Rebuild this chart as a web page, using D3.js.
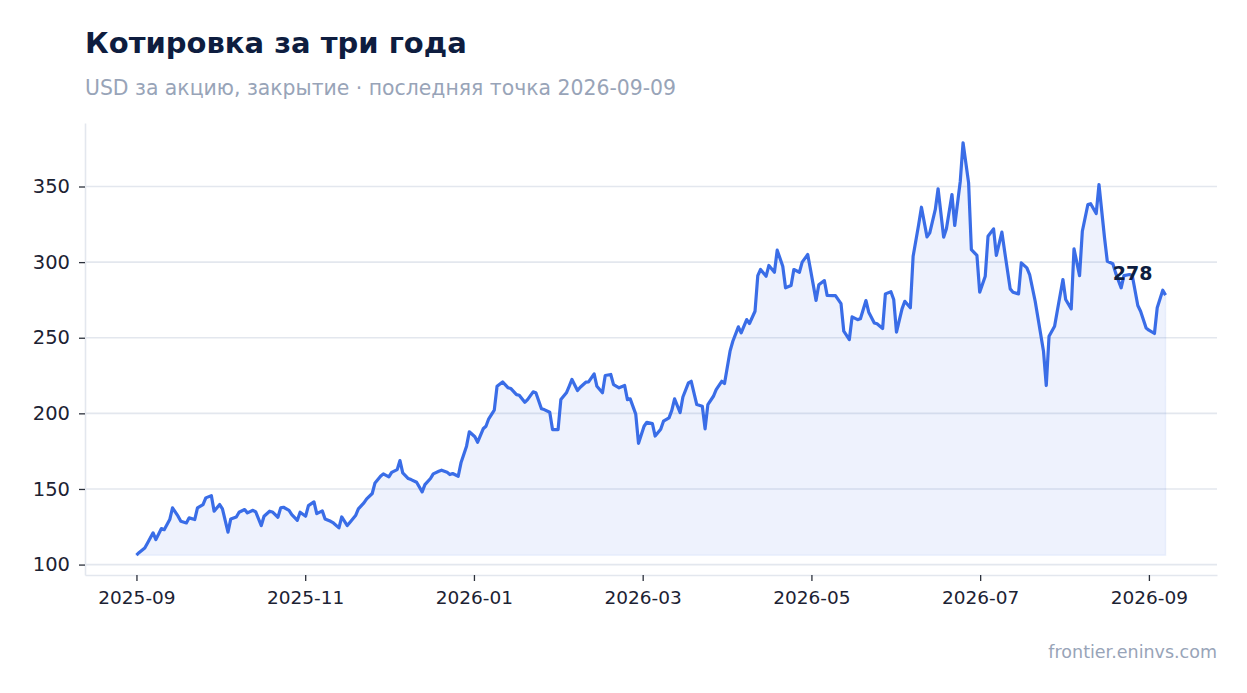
<!DOCTYPE html>
<html>
<head>
<meta charset="utf-8">
<script src="https://cdn.jsdelivr.net/npm/d3@7"></script>
<style>
  body { margin: 0; background: #fff; }
  svg { display: block; font-family: "DejaVu Sans", sans-serif; }
</style>
</head>
<body>
<div id="chart-area"></div>
<script>
const WIDTH = 1247;
const HEIGHT = 693;
const MARGIN = { LEFT: 85, RIGHT: 30, TOP: 123, BOTTOM: 118 };

const TITLE = "Котировка за три года";
const SUBTITLE = "USD за акцию, закрытие · последняя точка 2026-09-09";
const SOURCE = "frontier.eninvs.com";
const LAST_LABEL = "278";

// days counted from 2025-09-01
const START = "2025-09-01";
const dayOffsets = [
  0, 1, 3, 4, 6, 7, 9, 10, 12, 13, 15, 16, 18, 19, 21, 22, 24, 25, 27, 28,
  30, 31, 33, 34, 36, 37, 39, 40, 42, 43, 45, 46, 48, 49, 51, 52, 53, 55, 56, 58,
  59, 61, 62, 64, 65, 67, 68, 70, 71, 73, 74, 76, 77, 79, 80, 82, 83, 85, 86, 88,
  89, 91, 92, 94, 95, 96, 98, 99, 101, 103, 104, 106, 107, 109, 110, 112, 113, 114, 116, 117,
  119, 120, 122, 123, 125, 126, 127, 129, 130, 132, 134, 135, 137, 138, 140, 141, 143, 144, 146, 147,
  149, 150, 152, 153, 155, 156, 157, 159, 160, 162, 163, 165, 166, 168, 169, 171, 172, 174, 176, 177,
  178, 180, 181, 183, 184, 186, 187, 189, 190, 192, 193, 194, 196, 197, 199, 200, 202, 204, 205, 206,
  208, 209, 211, 212, 214, 215, 217, 218, 220, 221, 223, 224, 225, 227, 228, 230, 231, 233, 234, 236,
  237, 239, 240, 242, 243, 245, 246, 248, 249, 251, 252, 254, 255, 257, 258, 260, 261, 263, 264, 266,
  267, 269, 270, 272, 273, 274, 276, 277, 279, 280, 282, 283, 285, 286, 288, 289, 291, 292, 294, 295,
  297, 298, 300, 301, 303, 304, 306, 307, 309, 310, 312, 313, 315, 316, 318, 319, 321, 322, 324, 325,
  327, 328, 329, 331, 332, 334, 335, 337, 338, 340, 341, 343, 344, 346, 347, 349, 350, 352, 353, 355,
  356, 358, 359, 361, 362, 364, 365, 367, 368, 370, 371
];
const closePrices = [
  106.2, 108.0, 111.0, 114.3, 121.0, 116.5, 123.8, 123.1, 129.8, 137.5, 132.0, 128.6, 127.5, 130.9, 129.8, 137.5, 139.7, 144.1, 145.6, 135.3,
  139.7, 136.8, 121.4, 130.2, 131.5, 134.6, 136.4, 134.2, 135.9, 134.8, 125.8, 132.0, 135.3, 134.8, 131.3, 137.5, 137.9, 135.9, 133.1, 129.3,
  134.6, 132.0, 139.0, 141.5, 133.7, 135.5, 130.2, 128.6, 127.5, 124.3, 131.5, 125.8, 128.0, 132.4, 136.8, 140.8, 143.5, 147.0, 154.0, 158.4,
  160.0, 158.0, 161.0, 162.8, 168.8, 160.6, 156.9, 156.2, 154.4, 148.1, 152.9, 156.9, 160.0, 161.7, 162.4, 161.0, 159.5, 160.2, 158.4, 167.3,
  178.3, 187.8, 184.5, 180.9, 189.8, 191.5, 196.4, 202.1, 217.9, 220.8, 216.9, 216.4, 212.4, 212.0, 207.3, 209.1, 214.2, 213.6, 203.0, 202.5,
  200.7, 189.3, 189.3, 209.1, 213.6, 217.9, 222.4, 215.1, 217.3, 220.6, 220.8, 226.1, 217.9, 213.6, 225.0, 225.7, 219.0, 216.9, 218.4, 209.1,
  209.6, 199.5, 180.2, 191.5, 194.1, 193.3, 185.0, 189.5, 194.8, 197.0, 202.0, 209.6, 200.5, 210.8, 220.2, 221.2, 205.8, 204.7, 189.7, 205.8,
  211.3, 215.7, 221.2, 219.7, 241.1, 247.7, 257.2, 253.2, 262.0, 259.4, 267.5, 291.1, 295.1, 290.7, 297.8, 293.3, 307.9, 297.3, 283.0, 284.5,
  295.1, 293.3, 300.0, 305.0, 295.1, 274.7, 285.0, 287.8, 278.0, 277.9, 277.9, 272.6, 254.3, 248.8, 263.8, 262.0, 262.5, 274.6, 266.9, 259.8,
  259.2, 256.1, 279.0, 280.4, 275.3, 253.7, 269.1, 274.1, 269.8, 303.9, 324.9, 336.3, 316.7, 319.4, 334.8, 348.5, 316.5, 322.0, 344.7, 324.2,
  353.5, 378.9, 352.4, 308.3, 304.4, 280.1, 290.7, 317.1, 322.0, 304.4, 319.8, 307.0, 282.3, 280.1, 279.0, 299.5, 296.2, 291.8, 274.1, 263.2,
  241.1, 218.4, 251.0, 257.6, 268.0, 288.5, 275.3, 269.1, 308.8, 291.1, 320.4, 338.1, 338.6, 332.1, 351.3, 316.1, 300.6, 298.9, 292.9, 283.0,
  291.1, 291.8, 291.1, 271.3, 267.5, 256.5, 255.0, 252.8, 269.8, 281.4, 278.2
];
const yTickValues = [100, 150, 200, 250, 300, 350];
const xTickCount = 7;

const startDate = d3.timeParse("%Y-%m-%d")(START);
const data = dayOffsets.map((d, i) => ({
  date: d3.timeDay.offset(startDate, d),
  close: closePrices[i]
}));

const svg = d3.select("#chart-area").append("svg")
  .attr("width", WIDTH)
  .attr("height", HEIGHT);

const plotLeft = MARGIN.LEFT, plotRight = WIDTH - MARGIN.RIGHT;
const plotTop = MARGIN.TOP, plotBottom = HEIGHT - MARGIN.BOTTOM;

// 5% padding on both axes
const tExt = d3.extent(data, d => d.date);
const tPad = (tExt[1] - tExt[0]) * 0.05;
const x = d3.scaleTime()
  .domain([new Date(+tExt[0] - tPad), new Date(+tExt[1] + tPad)])
  .range([plotLeft, plotRight]);

const yExt = d3.extent(data, d => d.close);
const yPad = (yExt[1] - yExt[0]) * 0.048;
const y = d3.scaleLinear()
  .domain([yExt[0] - yPad, yExt[1] + yPad])
  .range([plotBottom, plotTop]);

// titles
svg.append("text")
  .attr("x", plotLeft).attr("y", 53)
  .attr("font-size", 29).attr("font-weight", "bold")
  .attr("fill", "#0e1d3f")
  .text(TITLE);

svg.append("text")
  .attr("x", plotLeft).attr("y", 95)
  .attr("font-size", 20.4)
  .attr("fill", "#98a4b8")
  .text(SUBTITLE);

svg.append("text")
  .attr("x", plotRight).attr("y", 658)
  .attr("text-anchor", "end")
  .attr("font-size", 17.5)
  .attr("fill", "#98a4b8")
  .text(SOURCE);

// grid
svg.append("g")
  .selectAll("line")
  .data(yTickValues)
  .join("line")
  .attr("x1", plotLeft).attr("x2", plotRight)
  .attr("y1", d => y(d)).attr("y2", d => y(d))
  .attr("stroke", "#e3e7ee")
  .attr("stroke-width", 1.6);

// area + line
const area = d3.area()
  .x(d => x(d.date))
  .y0(y(yExt[0]))
  .y1(d => y(d.close));

svg.append("path")
  .datum(data)
  .attr("d", area)
  .attr("fill", "#3b6ee8")
  .attr("fill-opacity", 0.085)
  .attr("stroke", "#3b6ee8")
  .attr("stroke-opacity", 0.07)
  .attr("stroke-width", 1.5);

const line = d3.line()
  .x(d => x(d.date))
  .y(d => y(d.close));

svg.append("path")
  .datum(data)
  .attr("d", line)
  .attr("fill", "none")
  .attr("stroke", "#3a6de7")
  .attr("stroke-width", 3.2)
  .attr("stroke-linejoin", "round");

// axes
const yAxisCall = d3.axisLeft(y)
  .tickValues(yTickValues)
  .tickSize(6)
  .tickSizeOuter(0)
  .tickPadding(9);

const yAxis = svg.append("g")
  .attr("transform", `translate(${plotLeft}, 0)`)
  .call(yAxisCall);

// evenly spaced ticks over one year, labelled by nearest month
const tStart = tExt[0];
const tEnd = d3.timeYear.offset(tStart, 1);
const xTicks = d3.range(xTickCount).map(k =>
  new Date(+tStart + k * (tEnd - tStart) / (xTickCount - 1)));
const monthFormat = d3.timeFormat("%Y-%m");

const xAxisCall = d3.axisBottom(x)
  .tickValues(xTicks)
  .tickFormat(d => monthFormat(d3.timeMonth.round(d)))
  .tickSize(6)
  .tickSizeOuter(0)
  .tickPadding(10);

const xAxis = svg.append("g")
  .attr("transform", `translate(0, ${plotBottom})`)
  .call(xAxisCall);

[yAxis, xAxis].forEach(g => {
  g.select(".domain").attr("stroke", "#e3e7ee").attr("stroke-width", 1.6);
  g.selectAll(".tick line").attr("stroke", "#2b303b").attr("stroke-width", 1.3);
  g.selectAll(".tick text").attr("fill", "#1c2233").attr("font-family", "DejaVu Sans");
});
yAxis.selectAll(".tick text").attr("font-size", 19.5);
xAxis.selectAll(".tick text").attr("font-size", 18.5);

// last value label
const last = data[data.length - 1];
svg.append("text")
  .attr("x", x(last.date) - 13)
  .attr("y", y(last.close) - 15)
  .attr("text-anchor", "end")
  .attr("font-size", 19)
  .attr("font-weight", "bold")
  .attr("fill", "#0e1d3f")
  .text(LAST_LABEL);
</script>
</body>
</html>
